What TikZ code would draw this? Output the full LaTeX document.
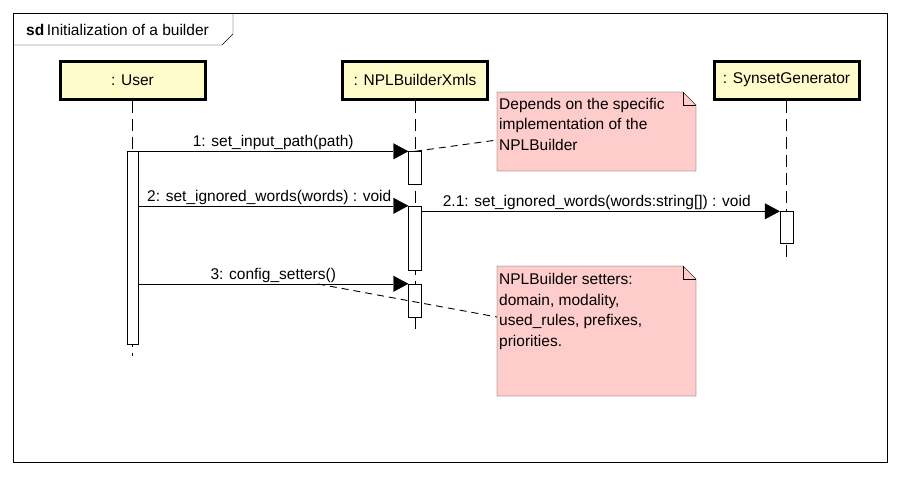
\documentclass[tikz,border=0pt]{standalone}
\usepackage{fontspec}
\setmainfont{Liberation Sans}
\usetikzlibrary{arrows.meta}

\tikzset{
    head/.style={draw, line width=3pt, fill=yellow!20, minimum width=145pt, minimum height=38pt, inner sep=0pt, font=\fontsize{15.5}{20}\selectfont},
    act/.style={draw, fill=white, minimum width=11pt, inner sep=0pt},
    msg/.style={-{Triangle[length=15pt, width=16pt]}},
    life/.style={dash pattern=on 12pt off 6pt, line width=0.9pt},
    notebox/.style={fill=red!20, draw=black!80},
    notelink/.style={dash pattern=on 7pt off 5pt, line width=0.9pt},
    lbl/.style={font=\fontsize{15.5}{20.5}\selectfont, inner sep=1pt}
}

\begin{document}
\begin{tikzpicture}[x=1pt, y=-1pt]
    % 画布大小
    \useasboundingbox (0,0) rectangle (901,477);

    % 外框和标题
    \draw (13,13) rectangle (887,462);
    \draw (13,45) -- (222,45) -- (233,34) -- (233,13);
    \node[anchor=west, lbl, inner sep=0pt] (title) at (26,30) {\textbf{sd}\,Initialization of a builder};

    % 生命线头部
    \node[head] (user)    at (132.5,80) {: User};
    \node[head] (builder) at (415,80)   {: NPLBuilderXmls};
    \node[head] (synset)  at (786.5,80) {: SynsetGenerator};

    % 生命线
    \coordinate (userend)    at (132.5,356);
    \coordinate (builderend) at (415,332);
    \coordinate (synsetend)  at (786.5,260);
    \draw[life] (user.south) -- (userend);
    \draw[life] (builder.south) -- (builderend);
    \draw[life] (synset.south) -- (synsetend);

    % 激活框
    \node[act, minimum height=193pt] (uact) at (132.5,247.5) {};
    \node[act, minimum height=33pt, minimum width=13pt] (b1) at (415,168) {};
    \node[act, minimum height=64pt, minimum width=13pt] (b2) at (415,238) {};
    \node[act, minimum height=33pt, minimum width=13pt] (b3) at (415,300.5) {};
    \node[act, minimum height=32pt, minimum width=13pt] (s1) at (786.5,227.5) {};

    % 消息
    \draw[msg] (uact.east |- b1.north) -- (b1.north west)
        node[midway, above, lbl] (m1) {1: set\_input\_path(path)};
    \draw[msg] (uact.east |- b2.north) -- (b2.north west)
        node[midway, above, lbl, xshift=-4pt] (m2) {2: set\_ignored\_words(words) : void};
    \draw[msg] (b2.east |- s1.north) -- (s1.north west)
        node[midway, above, lbl, xshift=-4pt] (m21) {2.1: set\_ignored\_words(words:string[]) : void};
    \draw[msg] (uact.east |- b3.north) -- (b3.north west)
        node[midway, above, lbl] (m3) {3: config\_setters()};

    % 注释
    \draw[notebox] (497,92) -- (683,92) -- (696,105) -- (696,171) -- (497,171) -- cycle;
    \draw (683,92) -- (683,105) -- (696,105);
    \node[anchor=north west, lbl, align=left, inner sep=0pt] (note1) at (499,98)
        {Depends on the specific\\implementation of the\\NPLBuilder};

    \draw[notebox] (497,266) -- (683,266) -- (696,279) -- (696,396) -- (497,396) -- cycle;
    \draw (683,266) -- (683,279) -- (696,279);
    \node[anchor=north west, lbl, align=left, inner sep=0pt] (note2) at (499,273.5)
        {NPLBuilder setters:\\domain, modality,\\used\_rules, prefixes,\\priorities.};

    % 注释连线
    \coordinate (n1left) at (497,140);
    \coordinate (n2left) at (497,317);
    \coordinate (m3foot) at (318,284);
    \draw[notelink] (b1.north) -- (n1left);
    \draw[notelink] (m3foot) -- (n2left);

\end{tikzpicture}
\end{document}
